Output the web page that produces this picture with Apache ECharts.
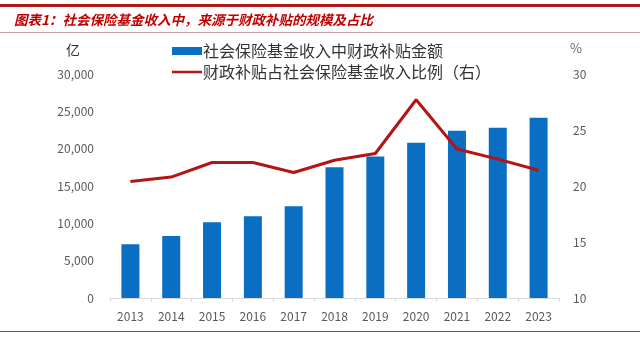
<!DOCTYPE html>
<html><head><meta charset="utf-8">
<script src="https://cdn.jsdelivr.net/npm/echarts@6/dist/echarts.min.js"></script>
<style>html,body{margin:0;padding:0;background:#fff}#c{width:640px;height:355px}</style>
</head><body><div id="c"></div>
<script>
const years = ['2013','2014','2015','2016','2017','2018','2019','2020','2021','2022','2023'];
const subsidyAmount = [7200, 8300, 10150, 10950, 12300, 17500, 18950, 20800, 22400, 22800, 24150];
const subsidyRatio = [20.4, 20.8, 22.1, 22.1, 21.2, 22.3, 22.9, 27.7, 23.3, 22.4, 21.4];
const leftTicks = {min:0, max:30000, interval:5000};
const rightTicks = {min:10, max:30, interval:5};
const titleText = '图表1：社会保险基金收入中，来源于财政补贴的规模及占比';
const barName = '社会保险基金收入中财政补贴金额';
const lineName = '财政补贴占社会保险基金收入比例（右）';

const chart = echarts.init(document.getElementById('c'), null, {renderer:'canvas'});
const font = '"Noto Sans CJK SC", "Noto Sans", sans-serif';
chart.setOption({
  animation:false,
  textStyle:{fontFamily:font},
  title:{text:titleText, left:9, top:8, textStyle:{color:'#c00000', fontSize:13.5, fontStyle:'italic', fontWeight:'bold', fontFamily:font}},
  graphic:[
    {type:'rect', shape:{x:0,y:4,width:640,height:3}, style:{fill:'#b01818'}},
    {type:'rect', shape:{x:0,y:32,width:640,height:1}, style:{fill:'#c9a0a0'}},
    {type:'rect', shape:{x:0,y:331,width:640,height:1}, style:{fill:'#9b3a3a'}},
    {type:'text', left:66, top:43, style:{text:'亿', fontSize:14, fill:'#333', fontFamily:font}},
    {type:'text', left:570, top:42, style:{text:'%', fontSize:13, fill:'#666', fontFamily:font}}
  ],
  legend:{orient:'vertical', left:167, top:38, itemGap:5, itemWidth:30, itemHeight:8,
    textStyle:{fontSize:16, color:'#333', fontFamily:font, padding:[0,0,0,-4]},
    data:[{name:barName, icon:'rect'}, {name:lineName, icon:'path://M0,3 L30,3 L30,5.5 L0,5.5 Z'}]},
  grid:{left:110, right:81, top:74, bottom:57},
  xAxis:{type:'category', data:years, boundaryGap:true,
    axisLine:{lineStyle:{color:'#d9d9d9'}}, axisTick:{show:true, length:4, lineStyle:{color:'#d9d9d9'}},
    axisLabel:{color:'#595959', fontSize:12, margin:12}},
  yAxis:[
    {type:'value', min:leftTicks.min, max:leftTicks.max, interval:leftTicks.interval,
      splitLine:{show:false}, axisLine:{show:false}, axisTick:{show:false},
      axisLabel:{color:'#595959', fontSize:12, margin:16, formatter:v=>v.toLocaleString('en-US')}},
    {type:'value', min:rightTicks.min, max:rightTicks.max, interval:rightTicks.interval,
      splitLine:{show:false}, axisLine:{show:false}, axisTick:{show:false},
      axisLabel:{color:'#595959', fontSize:12, margin:14}}
  ],
  series:[
    {name:barName, type:'bar', data:subsidyAmount, barWidth:18, itemStyle:{color:'#0a6fc2'}},
    {name:lineName, type:'line', yAxisIndex:1, data:subsidyRatio, symbol:'none',
      lineStyle:{color:'#b31515', width:3}, itemStyle:{color:'#b31515'}}
  ]
});
</script></body></html>
